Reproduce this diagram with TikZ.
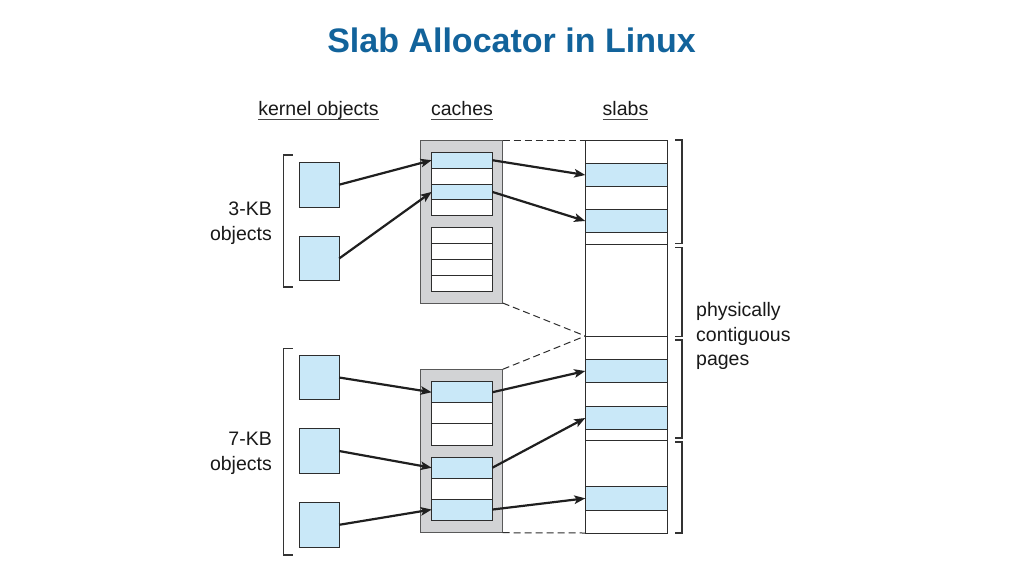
\documentclass[tikz,border=0pt]{standalone}
\usepackage{fontspec}
\setmainfont{Liberation Sans}
\usetikzlibrary{arrows.meta}
\definecolor{titleblue}{RGB}{18,99,155}
\definecolor{objblue}{RGB}{201,232,248}
\definecolor{cachegray}{RGB}{210,211,213}
\definecolor{edgec}{RGB}{45,45,45}
\definecolor{txt}{RGB}{25,25,25}
\begin{document}
\begin{tikzpicture}[x=1pt,y=-1pt,
  obj/.style={draw=edgec, fill=objblue, line width=0.9pt, minimum width=39.7pt, minimum height=44.5pt, inner sep=0, outer sep=0},
  cachebox/.style={draw=gray!70!black, fill=cachegray, line width=0.9pt, minimum width=82pt, inner sep=0, outer sep=0},
  slotw/.style={draw=edgec, fill=white, line width=0.9pt, minimum width=60.6pt, inner sep=0, outer sep=0},
  slotb/.style={slotw, fill=objblue},
  slabb/.style={draw=edgec, fill=objblue, line width=0.9pt, minimum width=82.4pt, inner sep=0, outer sep=0},
  ptr/.style={-{Stealth[length=11pt,width=8.5pt,inset=2.5pt]}, line width=2.2pt, draw=black!88},
  brk/.style={draw=gray!40!black, line width=1.1pt},
  dsh/.style={draw=edgec, line width=1pt, dash pattern=on 7pt off 4pt},
  lbl/.style={font=\fontsize{19.5}{24.5}\selectfont, text=txt, inner sep=0},
  uline/.style={draw=txt!80, line width=1.1pt}
]
\useasboundingbox[fill=white] (0,0) rectangle (1024,576);

% title
\node[font=\fontsize{34}{40}\selectfont\bfseries, text=titleblue, anchor=base, inner sep=0] (title) at (511.5,52) {Slab Allocator in Linux};

% headers
\node[lbl, anchor=base] (hk) at (318.5,115) {kernel objects};
\node[lbl, anchor=base] (hc) at (462,115) {caches};
\node[lbl, anchor=base] (hs) at (625.5,115) {slabs};
\foreach \h in {hk,hc,hs}{
  \draw[uline] ([yshift=-4.5pt]\h.base west) -- ([yshift=-4.5pt]\h.base east);
}

% side labels (base anchor = baseline of last line)
\node[lbl, anchor=base east, align=right] (l3) at (272,240) {3-KB\\objects};
\node[lbl, anchor=base east, align=right] (l7) at (272,470) {7-KB\\objects};
\node[lbl, anchor=base west, align=left] (lp) at (696,365.5) {physically\\contiguous\\pages};

% left brackets
\draw[brk] (292.7,155) -- (283.3,155) -- (283.3,287) -- (292.7,287);
\draw[brk] (292.7,348.3) -- (283.3,348.3) -- (283.3,555) -- (292.7,555);

% kernel objects
\node[obj] (o1) at (319.3,184.7) {};
\node[obj] (o2) at (319.3,258.5) {};
\node[obj] (o3) at (319.3,377.5) {};
\node[obj] (o4) at (319.3,451) {};
\node[obj] (o5) at (319.3,524.8) {};

% caches
\node[cachebox, minimum height=163pt] (ca) at (461.7,221.5) {};
\node[cachebox, minimum height=163.4pt] (cb) at (461.7,451) {};

% cache 1 slots
\node[slotb, minimum height=15.85pt] (a1) at (462,160.2) {};
\node[slotw, minimum height=15.85pt] (a2) at (462,176.1) {};
\node[slotb, minimum height=15.85pt] (a3) at (462,191.9) {};
\node[slotw, minimum height=15.85pt] (a4) at (462,207.8) {};
\node[slotw, minimum height=16pt] (a5) at (462,235.3) {};
\node[slotw, minimum height=16pt] (a6) at (462,251.3) {};
\node[slotw, minimum height=16pt] (a7) at (462,267.3) {};
\node[slotw, minimum height=16pt] (a8) at (462,283.3) {};

% cache 2 slots
\node[slotb, minimum height=21.1pt] (b1) at (462,392.25) {};
\node[slotw, minimum height=21.1pt] (b2) at (462,413.35) {};
\node[slotw, minimum height=21.1pt] (b3) at (462,434.45) {};
\node[slotb, minimum height=20.9pt] (b4) at (462,467.75) {};
\node[slotw, minimum height=20.9pt] (b5) at (462,488.65) {};
\node[slotb, minimum height=20.9pt] (b6) at (462,509.55) {};

% slabs column
\node[draw=edgec, fill=white, line width=0.9pt, minimum width=82.4pt, minimum height=393pt, inner sep=0, outer sep=0] (col) at (626.5,336.5) {};
\node[slabb, minimum height=23.4pt] (s1) at (626.5,175) {};
\node[slabb, minimum height=23.4pt] (s2) at (626.5,221) {};
\node[slabb, minimum height=23.4pt] (s3) at (626.5,371) {};
\node[slabb, minimum height=22.6pt] (s4) at (626.5,418) {};
\node[slabb, minimum height=23.3pt] (s5) at (626.5,498.35) {};
\coordinate (m1) at (585.3,244);
\coordinate (m2) at (585.3,336);
\coordinate (m3) at (585.3,440);
\foreach \m in {m1,m2,m3}{
  \draw[draw=edgec, line width=0.9pt] (\m) -- (\m -| col.east);
}

% dashed lines
\draw[dsh] (ca.north east) -- (col.north west);
\draw[dsh] (ca.south east) -- (m2);
\draw[dsh] (cb.north east) -- (m2);
\draw[dsh] (cb.south east) -- (col.south west);

% right brackets
\draw[brk] (675,140) -- (682,140) -- (682,243.5) -- (675,243.5);
\draw[brk] (675,247.5) -- (682,247.5) -- (682,336.5) -- (675,336.5);
\draw[brk] (675,340) -- (682,340) -- (682,438) -- (675,438);
\draw[brk] (675,442) -- (682,442) -- (682,533) -- (675,533);

% pointers
\draw[ptr] (o1.east) -- (a1.west);
\draw[ptr] (o2.east) -- (a3.west);
\draw[ptr] (a1.east) -- (s1.west);
\draw[ptr] (a3.east) -- (s2.west);
\draw[ptr] (o3.east) -- (b1.west);
\draw[ptr] (o4.east) -- (b4.west);
\draw[ptr] (o5.east) -- (b6.west);
\draw[ptr] (b1.east) -- (s3.west);
\draw[ptr] (b4.east) -- (s4.west);
\draw[ptr] (b6.east) -- (s5.west);
\end{tikzpicture}
\end{document}
